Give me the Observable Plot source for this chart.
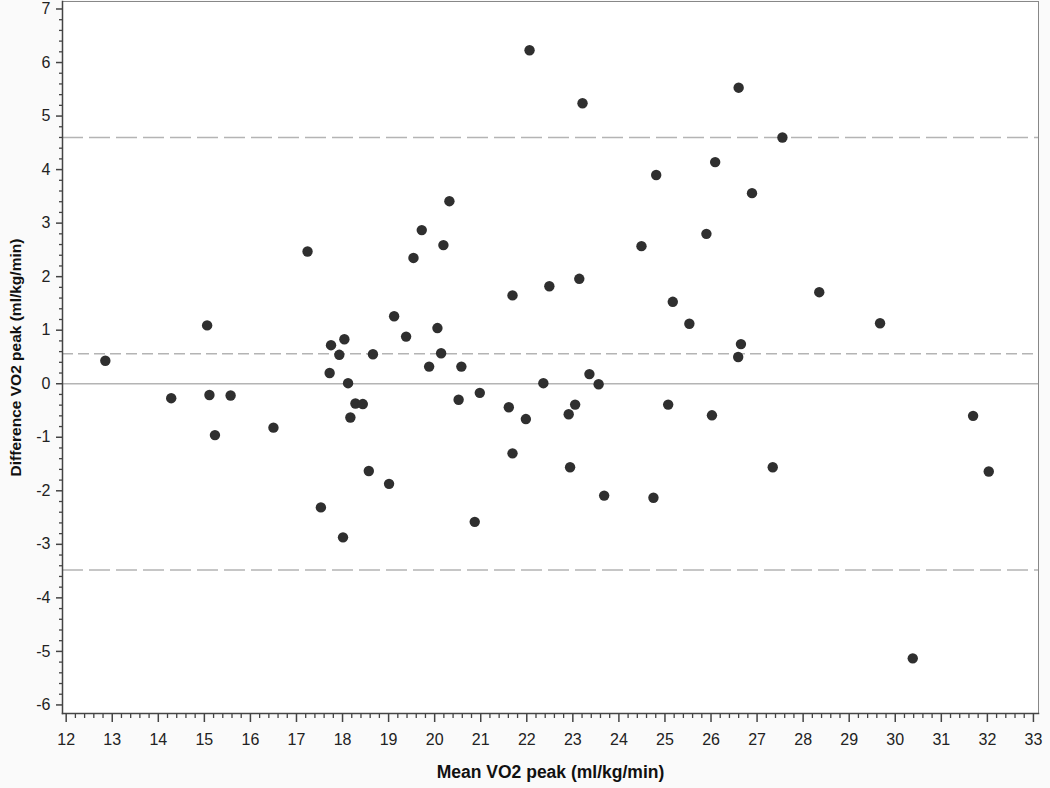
<!DOCTYPE html>
<html><head><meta charset="utf-8">
<script src="https://cdn.jsdelivr.net/npm/d3@7"></script>
<script src="https://cdn.jsdelivr.net/npm/@observablehq/plot@0.6"></script>
<style>
html,body{margin:0;padding:0;background:#fafafa;}
#chart svg{display:block;}
</style></head><body><div id="chart"></div>
<script>
// Bland-Altman data: mean and difference of VO2 peak (ml/kg/min)
const meanVO2 = [12.85,15.06,14.28,15.11,15.23,15.57,16.50,17.24,17.53,17.75,
  17.72,17.93,18.04,18.01,18.12,18.17,18.28,18.44,18.57,18.66,
  19.01,19.12,19.38,19.54,19.72,19.88,20.06,20.14,20.19,20.32,
  20.52,20.58,20.87,20.98,21.61,21.69,21.69,21.98,22.06,22.36,
  22.49,22.91,22.94,23.05,23.14,23.21,23.36,23.56,23.68,24.49,
  24.75,24.81,25.07,25.17,25.53,25.90,26.02,26.09,26.59,26.60,
  26.65,26.89,27.34,27.55,28.35,29.67,30.38,31.69,32.03];
const diffVO2 = [0.43,1.09,-0.27,-0.21,-0.96,-0.22,-0.82,2.47,-2.31,0.72,
  0.20,0.54,0.83,-2.87,0.01,-0.63,-0.37,-0.38,-1.63,0.55,
  -1.87,1.26,0.88,2.35,2.87,0.32,1.04,0.57,2.59,3.41,
  -0.30,0.32,-2.58,-0.17,-0.44,1.65,-1.30,-0.66,6.23,0.01,
  1.82,-0.57,-1.56,-0.39,1.96,5.24,0.18,-0.01,-2.09,2.57,
  -2.13,3.90,-0.39,1.53,1.12,2.80,-0.59,4.14,0.50,5.53,
  0.74,3.56,-1.56,4.60,1.71,1.13,-5.13,-0.60,-1.64];
const biasLine = [0.56];
const limitLines = [4.60, -3.48];
const zeroLine = [0];
const xTickLabels = [12,13,14,15,16,17,18,19,20,21,22,23,24,25,26,27,28,29,30,31,32,33];
const yTickLabels = [-6,-5,-4,-3,-2,-1,0,1,2,3,4,5,6,7];
const xTitle = "Mean VO2 peak (ml/kg/min)";
const yTitle = "Difference VO2 peak (ml/kg/min)";

const points = meanVO2.map((m, i) => ({mean: m, diff: diffVO2[i]}));
const minor = (majors, lo, hi) => {
  const out = [];
  for (const v of majors) for (let k = 1; k < 5; k++) {
    const t = +(v + k * 0.2).toFixed(2);
    if (t > lo && t < hi) out.push(t);
  }
  return out;
};
const xMinor = minor(xTickLabels, 11.92, 33.11);
const yMinor = minor([-7, ...yTickLabels], -6.16, 7.14);
const fmt = d => String(d);

const axisColor = "#444";
const chart = Plot.plot({
  width: 1050, height: 788,
  marginLeft: 62, marginRight: 12, marginTop: 1, marginBottom: 75,
  style: {fontFamily: "'Liberation Sans', Arial, sans-serif", background: "#fafafa", color: "#222"},
  x: {domain: [11.92, 33.11], axis: null},
  y: {domain: [-6.16, 7.14], axis: null},
  marks: [
    Plot.frame({fill: "white", stroke: "#888", strokeWidth: 1}),
    Plot.ruleY(zeroLine, {stroke: "#b4b4b4", strokeWidth: 1.5}),
    Plot.ruleY(biasLine, {stroke: "#b4b4b4", strokeWidth: 1.5, strokeDasharray: "11,5"}),
    Plot.ruleY(limitLines, {stroke: "#b4b4b4", strokeWidth: 1.5, strokeDasharray: "21,6"}),
    Plot.dot(points, {x: "mean", y: "diff", r: 5.2, fill: "#2f2f2f", stroke: "none"}),
    Plot.frame({anchor: "left", stroke: axisColor, strokeWidth: 1.5}),
    Plot.frame({anchor: "bottom", stroke: axisColor, strokeWidth: 1.5}),
    Plot.axisX(xMinor, {tickSize: 5, fill: "none", stroke: axisColor, strokeWidth: 1.3, label: null}),
    Plot.axisX(xTickLabels, {tickSize: 9, tickPadding: 11, fontSize: 16, stroke: axisColor, strokeWidth: 1.5, fill: "#222", tickFormat: fmt, label: null}),
    Plot.axisY(yMinor, {tickSize: 3, fill: "none", stroke: axisColor, strokeWidth: 1.3, label: null}),
    Plot.axisY(yTickLabels, {tickSize: 6, tickPadding: 6, fontSize: 16, stroke: axisColor, strokeWidth: 1.5, fill: "#222", tickFormat: fmt, label: null}),
    Plot.text([xTitle], {frameAnchor: "bottom", dy: 59, textAnchor: "middle", lineAnchor: "middle", fontSize: 17.5, fontWeight: "bold", fill: "#111"}),
    Plot.text([yTitle], {frameAnchor: "left", dx: -46, rotate: -90, textAnchor: "middle", lineAnchor: "middle", fontSize: 15.5, fontWeight: "bold", fill: "#111"})
  ]
});
document.getElementById("chart").appendChild(chart);
</script>
</body></html>
